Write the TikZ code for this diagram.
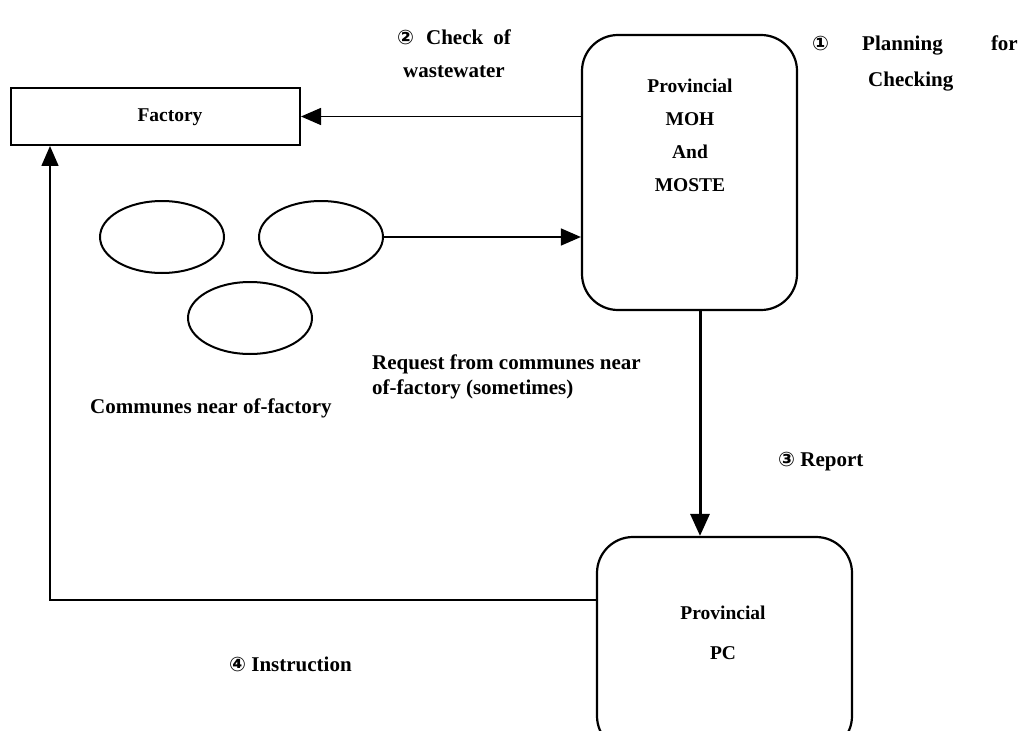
\documentclass[tikz,border=0pt]{standalone}
\usepackage{fontspec}
\setmainfont{Liberation Serif}
\newfontfamily\circfont{DejaVu Sans}
\usetikzlibrary{arrows.meta,shapes.geometric}
\tikzset{
  lbl/.style={font=\fontsize{21}{24}\selectfont\bfseries, inner sep=0pt, anchor=base west},
  boxtext/.style={font=\fontsize{19.5}{33}\selectfont\bfseries, align=center, inner sep=0pt},
  sqbox/.style={draw, line width=2pt, rectangle, inner sep=0pt},
  rbox/.style={draw, line width=2.2pt, rectangle, rounded corners=36pt, inner sep=0pt},
  comm/.style={draw, line width=2pt, ellipse, minimum width=124pt, minimum height=72pt, inner sep=0pt},
  arr/.style={line width=1.5pt, -{Triangle[length=20pt,width=17pt]}},
  bigarr/.style={line width=3pt, -{Triangle[length=22pt,width=19pt]}}
}
\newcommand{\circd}[1]{{\circfont\fontsize{20}{24}\selectfont #1}}
\begin{document}
\begin{tikzpicture}[x=1pt,y=-1pt]
\useasboundingbox (0,0) rectangle (1024,730);
\clip (0,0) rectangle (1024,730);
% nodes
\node[sqbox, minimum width=289pt, minimum height=57pt] (factory) at (155.5,116.5) {};
\node[font=\fontsize{19.5}{22}\selectfont\bfseries, inner sep=0pt] (factorytext) at (170,117) {Factory};
\node[rbox, minimum width=215pt, minimum height=275pt] (moh) at (689.5,172.5) {};
\node[boxtext] (mohtext) at (690,135) {Provincial\\MOH\\And\\MOSTE};
\node[rbox, minimum width=255pt, minimum height=215pt] (pc) at (724.5,644.5) {};
\node[boxtext, font=\fontsize{19.5}{40}\selectfont\bfseries] (pctext) at (723,633) {Provincial\\PC};
\node[comm] (e1) at (162,237) {};
\node[comm] (e2) at (321,237) {};
\node[comm] (e3) at (250,318) {};
% labels
\node[lbl] (l2a) at (397,45) {\circd{②}\hspace{12pt}Check\hspace{10pt}of};
\node[lbl] (l2b) at (403,78) {wastewater};
\node[lbl] (l1a) at (812,51) {\circd{①}};
\node[lbl] (l1p) at (862,51) {Planning};
\node[lbl, anchor=base east] (l1c) at (1018,51) {for};
\node[lbl] (l1b) at (868,87) {Checking};
\node[lbl] (lreqa) at (372,369) {Request from communes near};
\node[lbl] (lreqb) at (372,394) {of-factory (sometimes)};
\node[lbl] (lcomm) at (90,413) {Communes near of-factory};
\node[lbl] (l3) at (778,466) {\circd{③} Report};
\node[lbl] (l4) at (229,671) {\circd{④} Instruction};
% connectors
\coordinate (a3) at (700,0);
\coordinate (a4) at (50,0);
\coordinate (pcin) at ([yshift=-64pt]pc.north west);
\draw[arr] (factory.east -| moh.west) -- (factory.east);
\draw[arr] (e2.east) -- (e2.east -| moh.west);
\draw[bigarr] (a3 |- moh.south) -- (a3 |- pc.north);
\draw[arr] (pcin) -- (pcin -| a4) -- (a4 |- factory.south);
\end{tikzpicture}
\end{document}
